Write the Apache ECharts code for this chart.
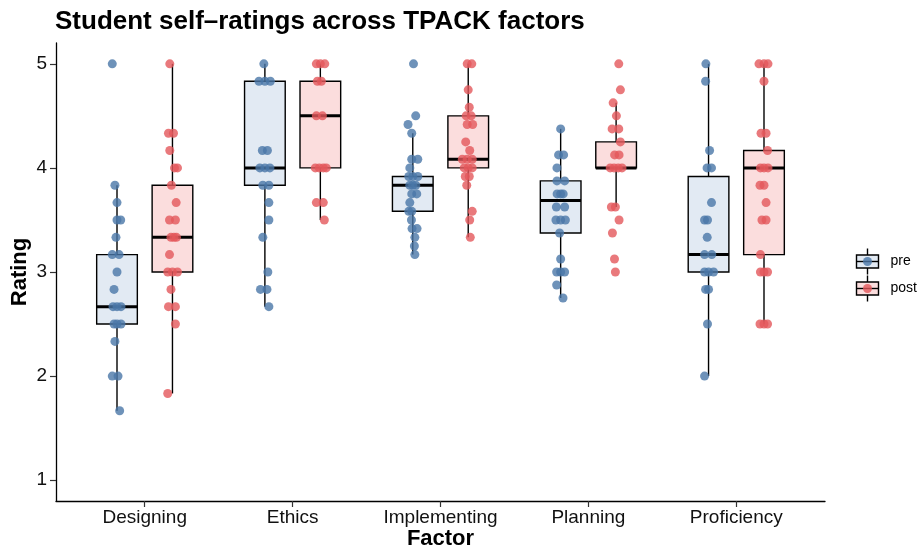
<!DOCTYPE html>
<html><head><meta charset="utf-8">
<script src="https://cdn.jsdelivr.net/npm/echarts@6/dist/echarts.min.js"></script>
<style>html,body{margin:0;padding:0;background:#fff}#c{width:917px;height:547px}</style>
</head><body><div id="c"></div>
<script>
const categories = ['Designing', 'Ethics', 'Implementing', 'Planning', 'Proficiency'];
const yTicks = [1, 2, 3, 4, 5];
const groups = ['pre', 'post'];

// box statistics per factor: [lower whisker, Q1, median, Q3, upper whisker]
const preBox = [
  [1.667, 2.5, 2.667, 3.167, 3.833],
  [2.667, 3.833, 4.0, 4.833, 5.0],
  [3.167, 3.583, 3.833, 3.917, 4.333],
  [2.75, 3.375, 3.6875, 3.875, 4.375],
  [2.0, 3.0, 3.167, 3.917, 5.0]
];
const postBox = [
  [1.833, 3.0, 3.333, 3.833, 5.0],
  [3.5, 4.0, 4.5, 4.833, 5.0],
  [3.333, 4.0, 4.083, 4.5, 5.0],
  [3.625, 4.0, 4.0, 4.25, 4.625],
  [2.5, 3.167, 4.0, 4.167, 5.0]
];

// individual ratings: [rating, horizontal jitter in factor units]
const designingPre = [[5,-0.032],[3.833,-0.014],[3.667,0],[3.5,0],[3.5,0.025],[3.333,-0.007],[3.167,-0.032],[3.167,0.014],[3,0],[2.833,-0.02],[2.667,-0.027],[2.667,0],[2.667,0.027],[2.5,-0.02],[2.5,0],[2.5,0.027],[2.333,-0.014],[2,-0.032],[2,0.007],[1.667,0.018]];
const designingPost = [[5,-0.018],[4.333,-0.027],[4.333,0.007],[4.167,-0.018],[4,0.014],[4,0.034],[3.833,-0.007],[3.667,0.025],[3.5,-0.02],[3.5,0.02],[3.333,-0.01],[3.333,0.01],[3.333,0.027],[3.167,-0.02],[3,-0.032],[3,0],[3,0.034],[2.833,-0.01],[2.667,-0.027],[2.667,0.02],[2.5,0.02],[1.833,-0.032]];
const ethicsPre = [[5,-0.007],[4.833,-0.04],[4.833,0],[4.833,0.037],[4.167,-0.017],[4.167,0.017],[4,-0.034],[4,0],[4,0.034],[3.833,-0.014],[3.833,0.027],[3.667,0.027],[3.5,0.027],[3.333,-0.014],[3,0.02],[2.833,-0.03],[2.833,0.014],[2.667,0.027]];
const ethicsPost = [[5,-0.027],[5,0],[5,0.03],[4.833,-0.02],[4.833,0.007],[4.5,-0.027],[4.5,0.014],[4,-0.034],[4,-0.007],[4,0.02],[4,0.04],[3.667,-0.027],[3.667,0.02],[3.5,0.027]];
const implementingPre = [[5,0.005],[4.5,0.02],[4.417,-0.032],[4.333,-0.007],[4.083,-0.007],[4.083,0.034],[4,-0.02],[3.917,-0.027],[3.917,0],[3.917,0.034],[3.833,-0.02],[3.833,0],[3.833,0.02],[3.75,-0.007],[3.75,0.027],[3.667,-0.02],[3.583,-0.027],[3.583,-0.007],[3.5,-0.009],[3.417,-0.005],[3.417,0.029],[3.333,0.014],[3.25,0.011],[3.167,0.014]];
const implementingPost = [[5,-0.007],[5,0.024],[4.75,0],[4.583,0.007],[4.5,-0.014],[4.5,0.02],[4.417,-0.007],[4.417,0.03],[4.25,-0.017],[4.167,0.01],[4.083,-0.04],[4.083,-0.007],[4.083,0.027],[4,-0.027],[4,0],[4,0.027],[3.917,-0.02],[3.917,0.007],[3.833,-0.01],[3.583,0.027],[3.5,0.01],[3.333,0.014]];
const planningPre = [[4.375,0],[4.125,-0.014],[4.125,0.02],[4,-0.025],[3.875,-0.025],[3.875,0.027],[3.75,-0.024],[3.75,0],[3.75,0.017],[3.625,-0.029],[3.625,0.027],[3.5,-0.032],[3.5,0],[3.5,0.032],[3.375,-0.007],[3.125,0],[3,-0.027],[3,0],[3,0.027],[2.875,-0.027],[2.75,0.016]];
const planningPost = [[5,0.018],[4.75,0.029],[4.625,-0.02],[4.5,0.002],[4.375,-0.027],[4.375,0.018],[4.25,0.029],[4.125,-0.01],[4.125,0.02],[4,-0.04],[4,-0.014],[4,0.014],[4,0.04],[3.625,-0.032],[3.625,-0.005],[3.5,0.02],[3.375,-0.025],[3.125,-0.011],[3,-0.005]];
const proficiencyPre = [[5,-0.018],[4.833,-0.02],[4.167,0.007],[4,-0.01],[4,0.02],[3.667,0.02],[3.5,-0.027],[3.5,-0.007],[3.333,-0.009],[3.167,-0.027],[3.167,0.022],[3,-0.027],[3,0],[3,0.034],[2.833,-0.02],[2.833,0],[2.5,-0.007],[2,-0.027]];
const proficiencyPost = [[5,-0.034],[5,0],[5,0.027],[4.833,0],[4.333,-0.02],[4.333,0.014],[4.167,0.024],[4,-0.024],[4,0],[4,0.027],[3.833,-0.027],[3.833,0],[3.667,0.014],[3.5,-0.014],[3.5,0.014],[3.167,-0.024],[3,-0.024],[3,0],[3,0.024],[2.5,-0.027],[2.5,0],[2.5,0.024]];

const prePoints = [designingPre, ethicsPre, implementingPre, planningPre, proficiencyPre];
const postPoints = [designingPost, ethicsPost, implementingPost, planningPost, proficiencyPost];

const DODGE = 0.1875, BOX_W = 0.275;
const FONT = "'Liberation Sans', Arial, Helvetica, sans-serif";
const COLORS = { pre: '#4A77A8', post: '#E4585B' };
const FILLS = { pre: '#E2EAF3', post: '#FBDDDD' };

function boxSeries(name, stats, offset, fill) {
  return {
    type: 'custom', name: name, z: 2, silent: true,
    data: stats.map((s, i) => [i + 1 + offset].concat(s)),
    encode: { x: 0, y: [1, 2, 3, 4, 5] },
    renderItem: function (params, api) {
      const x = api.value(0), h = BOX_W / 2;
      const lo = api.coord([x, api.value(1)]);
      const q1 = api.coord([x, api.value(2)]);
      const q3 = api.coord([x, api.value(4)]);
      const hi = api.coord([x, api.value(5)]);
      const bl = api.coord([x - h, api.value(2)]);
      const tr = api.coord([x + h, api.value(4)]);
      const ml = api.coord([x - h, api.value(3)]);
      const mr = api.coord([x + h, api.value(3)]);
      const ls = { stroke: '#000', lineWidth: 1.4 };
      return { type: 'group', children: [
        { type: 'line', shape: { x1: q3[0], y1: q3[1], x2: hi[0], y2: hi[1] }, style: ls },
        { type: 'line', shape: { x1: q1[0], y1: q1[1], x2: lo[0], y2: lo[1] }, style: ls },
        { type: 'rect', shape: { x: bl[0], y: tr[1], width: tr[0] - bl[0], height: bl[1] - tr[1] }, style: { fill: fill, stroke: '#000', lineWidth: 1.4 } },
        { type: 'line', shape: { x1: ml[0], y1: ml[1], x2: mr[0], y2: mr[1] }, style: { stroke: '#000', lineWidth: 3 } }
      ] };
    }
  };
}

function pointSeries(name, pts, offset, color) {
  const data = [];
  pts.forEach((list, i) => list.forEach(p => data.push([i + 1 + offset + p[1], p[0]])));
  return {
    type: 'scatter', name: name, z: 3, symbolSize: 9, data: data,
    itemStyle: { color: color, opacity: 0.8 }
  };
}

function legendItem(y, fill, color, label) {
  return { type: 'group', left: 854, top: y - 13, children: [
    { type: 'line', shape: { x1: 11, y1: 0, x2: 11, y2: 26 }, style: { stroke: '#000', lineWidth: 1.4 } },
    { type: 'rect', shape: { x: 0, y: 6.5, width: 22, height: 13 }, style: { fill: fill, stroke: '#000', lineWidth: 1.4 } },
    { type: 'line', shape: { x1: 0, y1: 13, x2: 22, y2: 13 }, style: { stroke: '#000', lineWidth: 1.4 } },
    { type: 'circle', shape: { cx: 11, cy: 13, r: 4.5 }, style: { fill: color, opacity: 0.8 } },
    { type: 'text', x: 34, y: 13, style: { text: label, fontSize: 14, fontFamily: FONT, fill: '#000', verticalAlign: 'middle' } }
  ] };
}

const chart = echarts.init(document.getElementById('c'), null, { renderer: 'canvas' });
chart.setOption({
  animation: false,
  backgroundColor: '#fff',
  title: { text: 'Student self\u2013ratings across TPACK factors', left: 50, top: 4,
    textStyle: { fontSize: 26, fontWeight: 'bold', fontFamily: FONT, color: '#000' } },
  grid: { left: 56, right: 92, top: 43, bottom: 46, containLabel: false, outerBoundsMode: 'none' },
  xAxis: {
    type: 'value', min: 0.4, max: 5.6,
    name: 'Factor', nameLocation: 'middle', nameGap: 27, nameMoveOverlap: false,
    nameTextStyle: { fontSize: 22, fontWeight: 'bold', fontFamily: FONT, color: '#000' },
    axisLine: { show: true, lineStyle: { color: '#000', width: 1.3 } },
    axisTick: { show: true, customValues: yTicks, length: 6, lineStyle: { color: '#333', width: 1.2 } },
    axisLabel: { customValues: yTicks, margin: 7, fontSize: 19, fontFamily: FONT, color: '#111',
      formatter: v => categories[Math.round(v) - 1] || '' },
    splitLine: { show: false }
  },
  yAxis: {
    type: 'value', min: 0.8, max: 5.2,
    name: 'Rating', nameLocation: 'middle', nameGap: 25, nameRotate: 90, nameMoveOverlap: false,
    nameTextStyle: { fontSize: 22, fontWeight: 'bold', fontFamily: FONT, color: '#000' },
    axisLine: { show: true, lineStyle: { color: '#000', width: 1.3 } },
    axisTick: { show: true, customValues: yTicks, length: 6, lineStyle: { color: '#333', width: 1.2 } },
    axisLabel: { customValues: yTicks, margin: 9, fontSize: 19, fontFamily: FONT, color: '#111' },
    splitLine: { show: false }
  },
  graphic: [
    legendItem(259, FILLS.pre, COLORS.pre, groups[0]),
    legendItem(286, FILLS.post, COLORS.post, groups[1])
  ],
  series: [
    boxSeries('pre box', preBox, -DODGE, FILLS.pre),
    boxSeries('post box', postBox, DODGE, FILLS.post),
    pointSeries(groups[0], prePoints, -DODGE, COLORS.pre),
    pointSeries(groups[1], postPoints, DODGE, COLORS.post)
  ]
});
</script>
</body></html>
